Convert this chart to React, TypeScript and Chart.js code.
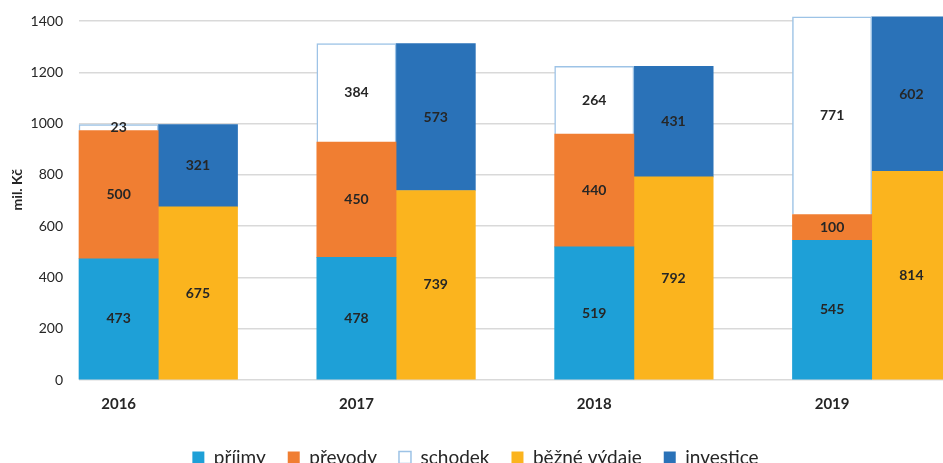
import React, { useEffect, useRef } from 'react';
import { Chart, registerables } from 'chart.js';

Chart.register(...registerables);

const years = ['2016', '2017', '2018', '2019'];
const prijmy = [473, 478, 519, 545];
const prevody = [500, 450, 440, 100];
const schodek = [23, 384, 264, 771];
const bezneVydaje = [675, 739, 792, 814];
const investice = [321, 573, 431, 602];
const yTickValues = [0, 200, 400, 600, 800, 1000, 1200, 1400];
const yTitle = 'mil. Kč';

const FONT = 'Lato, "Noto Sans", sans-serif';
const TEXT = '#262626';

// Each year occupies slots: [income stack, expense stack, gap]; the last year has no gap.
const slotLabels: string[] = years.flatMap((y, i) => (i < years.length - 1 ? [y, '', ''] : [y, '']));
const toSlots = (vals: number[], offset: number) => {
  const arr: (number | null)[] = new Array(slotLabels.length).fill(null);
  vals.forEach((v, i) => {
    arr[i * 3 + offset] = v;
  });
  return arr;
};

const valueLabels = {
  id: 'valueLabels',
  afterDatasetsDraw(chart: any) {
    const ctx = chart.ctx;
    ctx.save();
    ctx.font = `bold 14px ${FONT}`;
    ctx.fillStyle = TEXT;
    ctx.textAlign = 'center';
    ctx.textBaseline = 'middle';
    chart.data.datasets.forEach((ds: any, di: number) => {
      const meta = chart.getDatasetMeta(di);
      meta.data.forEach((el: any, i: number) => {
        const v = ds.data[i];
        if (v === null || v === undefined) return;
        const p = el.getProps(['x', 'y', 'base'], true);
        ctx.fillText(String(v), p.x, (p.y + p.base) / 2);
      });
    });
    ctx.restore();
  },
};

// Axis title placed like the original (slightly above the plot's middle).
const axisTitle = {
  id: 'axisTitle',
  afterDraw(chart: any) {
    const ctx = chart.ctx;
    const area = chart.chartArea;
    const cy = area.top + (area.bottom - area.top) * 0.47;
    ctx.save();
    ctx.translate(17, cy);
    ctx.rotate(-Math.PI / 2);
    ctx.font = `bold 14px ${FONT}`;
    ctx.fillStyle = TEXT;
    ctx.textAlign = 'center';
    ctx.textBaseline = 'middle';
    ctx.fillText(yTitle, 0, 0);
    ctx.restore();
  },
};

export default function App() {
  const ref = useRef<HTMLCanvasElement | null>(null);

  useEffect(() => {
    if (!ref.current) return;
    const common = { barPercentage: 1, categoryPercentage: 1, clip: false as any, borderWidth: 0 };
    const chart = new Chart(ref.current, {
      type: 'bar',
      data: {
        labels: slotLabels,
        datasets: [
          { label: 'příjmy', data: toSlots(prijmy, 0), backgroundColor: '#1ea0d7', ...common },
          { label: 'převody', data: toSlots(prevody, 0), backgroundColor: '#f07e32', ...common },
          {
            label: 'schodek',
            data: toSlots(schodek, 0),
            backgroundColor: '#ffffff',
            ...common,
            borderWidth: 1.5,
            borderColor: '#9dc3e6',
          },
          { label: 'běžné výdaje', data: toSlots(bezneVydaje, 1), backgroundColor: '#fbb41e', ...common },
          { label: 'investice', data: toSlots(investice, 1), backgroundColor: '#2a72b8', ...common },
        ],
      },
      options: {
        responsive: false,
        animation: false,
        devicePixelRatio: 1,
        events: [],
        layout: { padding: { top: 21, right: 12, bottom: 3, left: 0 } },
        plugins: {
          legend: {
            position: 'bottom',
            labels: {
              boxWidth: 12,
              boxHeight: 12,
              padding: 22,
              color: TEXT,
              font: { family: FONT, size: 19 },
            },
          },
          tooltip: { enabled: false },
        },
        scales: {
          x: {
            stacked: true,
            grid: { display: false },
            border: { display: false },
            ticks: {
              autoSkip: false,
              maxRotation: 0,
              padding: 7,
              color: TEXT,
              font: { family: FONT, size: 15, weight: 'bold' },
            },
            afterFit: (s: any) => {
              s.height = 46;
            },
          },
          y: {
            stacked: true,
            min: 0,
            max: 1400,
            afterBuildTicks: (s: any) => {
              s.ticks = yTickValues.map((v) => ({ value: v }));
            },
            ticks: {
              padding: 16,
              color: TEXT,
              font: { family: FONT, size: 14 },
              callback: (v: any) => String(v),
            },
            grid: { color: '#d9d9d9', lineWidth: 1.5, drawTicks: false },
            border: { display: false },
            title: { display: false },
            afterFit: (s: any) => {
              s.width = 79;
              s.paddingTop = 8;
              s.paddingBottom = 8;
            },
          },
        },
      },
      plugins: [valueLabels, axisTitle],
    });
    return () => chart.destroy();
  }, []);

  return (
    <div
      style={{
        position: 'fixed',
        left: 0,
        top: 0,
        width: 943,
        height: 463,
        overflow: 'hidden',
        background: '#ffffff',
      }}
    >
      <canvas ref={ref} width={963} height={480} style={{ display: 'block', width: 963, height: 480 }} />
    </div>
  );
}
